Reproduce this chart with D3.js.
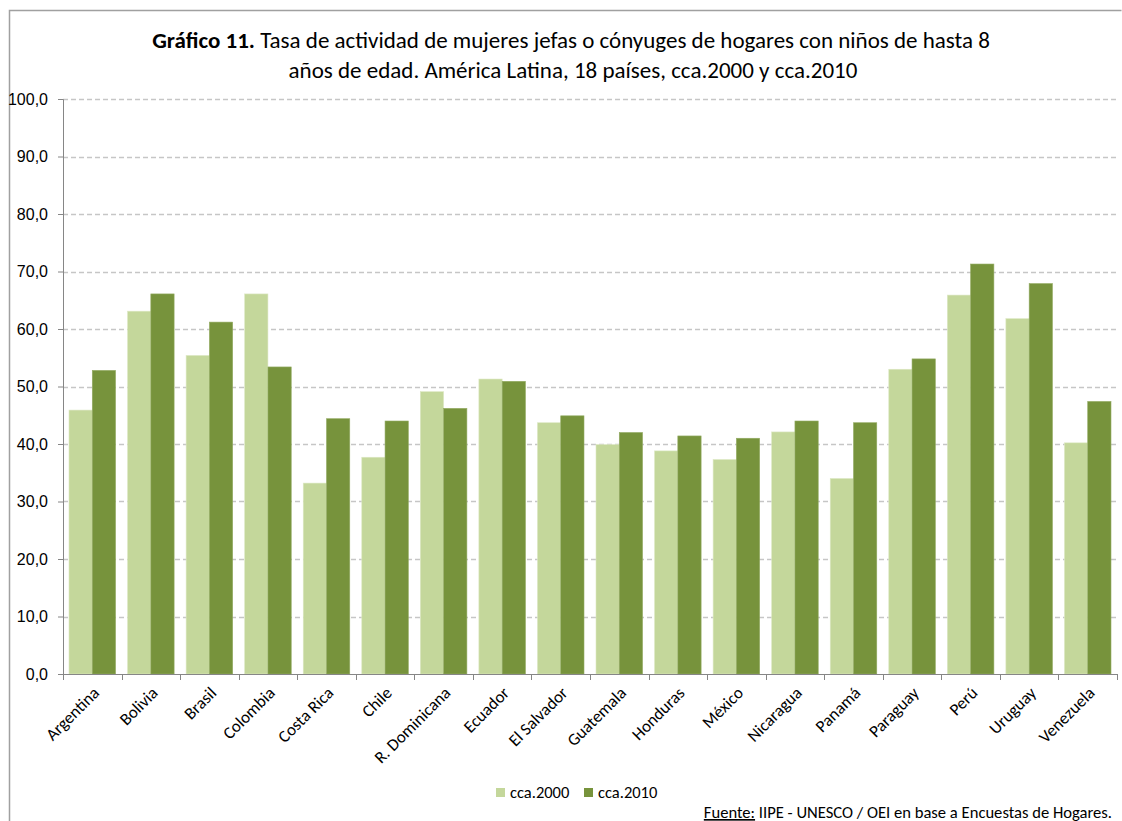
<!DOCTYPE html>
<html>
<head>
<meta charset="utf-8">
<script src="https://cdn.jsdelivr.net/npm/d3@7"></script>
<style>
  body { margin: 0; background: #fff; }
  svg { display: block; font-family: Carlito, Calibri, "Liberation Sans Narrow", Lato, "Open Sans", sans-serif; }
</style>
</head>
<body>
<svg id="chart" width="1122" height="821"></svg>
<script>
const categories = ["Argentina","Bolivia","Brasil","Colombia","Costa Rica","Chile","R. Dominicana","Ecuador","El Salvador","Guatemala","Honduras","México","Nicaragua","Panamá","Paraguay","Perú","Uruguay","Venezuela"];
const seriesNames = ["cca.2000","cca.2010"];
const values2000 = [45.9,63.1,55.4,66.1,33.2,37.7,49.1,51.3,43.7,39.9,38.8,37.3,42.1,34.0,53.0,65.9,61.8,40.2];
const values2010 = [52.8,66.1,61.2,53.4,44.4,44.0,46.2,50.9,44.9,42.0,41.4,41.0,44.0,43.7,54.8,71.3,67.9,47.4];
const yTicks = [0,10,20,30,40,50,60,70,80,90,100];
const colors = ["#C4D79B","#77933C"];

const svg = d3.select("#chart");
const W = 1122, H = 821;
const m = {left: 63, right: 1117, top: 99, bottom: 674};

// outer frame
svg.append("path").attr("d", `M9.5,${H} V10.5 H1121.5`).attr("fill","none").attr("stroke","#A0A0A0").attr("stroke-width",1.5);

// title
const title = svg.append("text").attr("x", 571).attr("y", 48).attr("text-anchor","middle").attr("font-size", 23).attr("fill","#000");
title.append("tspan").attr("font-weight","bold").text("Gráfico 11.");
title.append("tspan").text(" Tasa de actividad de mujeres jefas o cónyuges de hogares con niños de hasta 8");
svg.append("text").attr("x", 573).attr("y", 78).attr("text-anchor","middle").attr("font-size", 23).attr("fill","#000")
  .text("años de edad. América Latina, 18 países,  cca.2000 y cca.2010");

const y = d3.scaleLinear().domain([0,100]).range([m.bottom, m.top]);
const x0 = d3.scaleBand().domain(categories).range([m.left, m.right]).padding(0);
const x1 = d3.scaleBand().domain(seriesNames).range([6, x0.bandwidth()-6]).padding(0);

// gridlines
svg.append("g").selectAll("line").data(yTicks.filter(d => d > 0)).join("line")
  .attr("x1", m.left).attr("x2", m.right)
  .attr("y1", d => Math.round(y(d))+0.5).attr("y2", d => Math.round(y(d))+0.5)
  .attr("stroke","#C6C6C6").attr("stroke-width",1.3).attr("stroke-dasharray","5,3");

// bars
const data = categories.map((c,i) => ({cat: c, vals: [values2000[i], values2010[i]]}));
const groups = svg.append("g").selectAll("g").data(data).join("g")
  .attr("transform", d => `translate(${x0(d.cat)},0)`);
groups.selectAll("rect").data(d => d.vals.map((v,j) => ({s: seriesNames[j], v, j}))).join("rect")
  .attr("x", d => x1(d.s)).attr("width", x1.bandwidth())
  .attr("y", d => y(d.v)).attr("height", d => y(0) - y(d.v))
  .attr("fill", d => colors[d.j])
  .attr("stroke", d => d.j === 0 ? "#DDE8C4" : "#93AB63").attr("stroke-width", 0.6);

// y axis
const yAxis = d3.axisLeft(y).tickValues(yTicks).tickSize(5).tickPadding(10)
  .tickFormat(d => d3.format(".1f")(d).replace(".", ","));
const gy = svg.append("g").attr("transform", `translate(${m.left},0)`).call(yAxis);
gy.select(".domain").attr("stroke","#868686");
gy.selectAll(".tick line").attr("stroke","#868686");
gy.selectAll(".tick text").attr("font-size", 16).attr("fill","#000").attr("font-family","inherit");

// x axis
const gx = svg.append("g").attr("transform", `translate(0,${m.bottom})`);
gx.append("line").attr("x1", m.left).attr("x2", m.right).attr("y1", 0.5).attr("y2", 0.5).attr("stroke","#868686");
const bounds = categories.map(c => x0(c)).concat([m.right]);
gx.selectAll("line.tk").data(bounds).join("line").attr("class","tk")
  .attr("x1", d => Math.round(d)+0.5).attr("x2", d => Math.round(d)+0.5).attr("y1", 0).attr("y2", 6).attr("stroke","#868686");
gx.selectAll("text").data(categories).join("text")
  .attr("transform", c => `translate(${x0(c) + x0.bandwidth()/2 + 8},${20}) rotate(-45)`)
  .attr("text-anchor","end").attr("font-size", 17).attr("fill","#000").text(c => c);

// legend
const leg = svg.append("g");
const legX = [496, 584];
seriesNames.forEach((s,i) => {
  leg.append("rect").attr("x", legX[i]).attr("y", 788).attr("width", 9).attr("height", 9).attr("fill", colors[i]);
  leg.append("text").attr("x", legX[i] + 14).attr("y", 798).attr("font-size", 16.5).attr("fill","#000").text(s);
});

// source
const src = svg.append("text").attr("x", 1112).attr("y", 818).attr("text-anchor","end").attr("font-size", 16.6).attr("fill","#000");
src.append("tspan").attr("text-decoration","underline").text("Fuente:");
src.append("tspan").text(" IIPE - UNESCO / OEI en base a Encuestas de Hogares.");
</script>
</body>
</html>
